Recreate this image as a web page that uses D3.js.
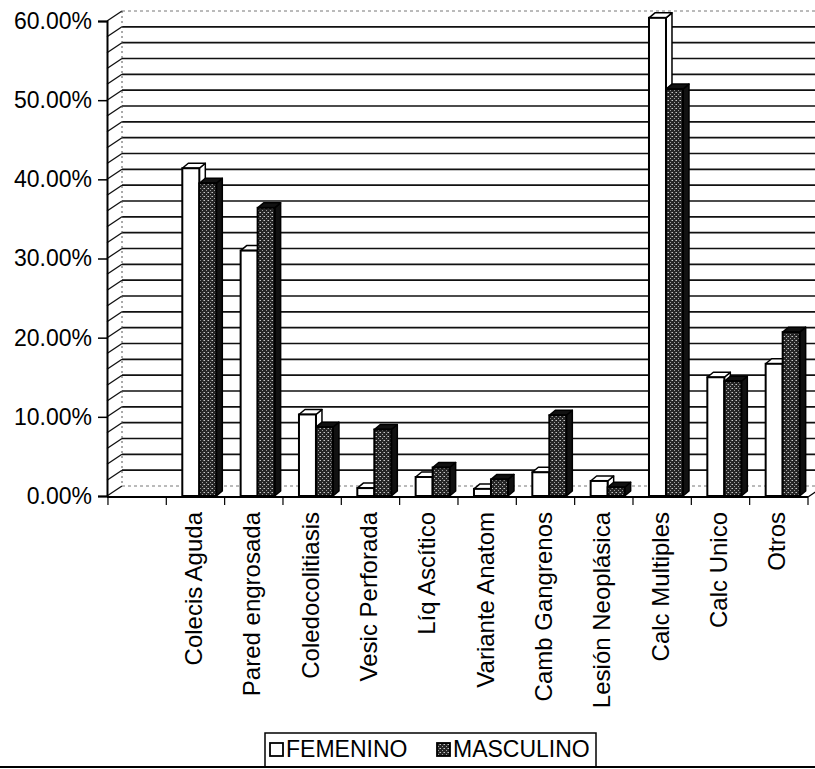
<!DOCTYPE html>
<html>
<head>
<meta charset="utf-8">
<script src="https://cdn.jsdelivr.net/npm/d3@7"></script>
<style>
  html, body { margin: 0; padding: 0; background: #fff; }
  svg { display: block; }
  text { font-family: "Liberation Sans", Arial, sans-serif; fill: #000; }
</style>
</head>
<body>
<svg id="chart" width="815" height="769"></svg>
<script>
// Hallazgos por sexo (porcentaje de casos)
const categories = ["Colecis Aguda", "Pared engrosada", "Coledocolitiasis", "Vesic Perforada",
  "Líq Ascítico", "Variante Anatom", "Camb Gangrenos", "Lesión Neoplásica",
  "Calc Multiples", "Calc Unico", "Otros"];
const femenino  = [41.4, 31.0, 10.3, 1.0, 2.4, 0.9, 3.0, 1.9, 60.4, 15.0, 16.7];
const masculino = [39.5, 36.4, 8.7, 8.4, 3.6, 2.1, 10.2, 1.1, 51.4, 14.5, 20.7];
const seriesNames = ["FEMENINO", "MASCULINO"];
const yTicks = [0, 10, 20, 30, 40, 50, 60];
const gridSteps = d3.range(0, 62, 2);

const svg = d3.select("#chart");

// pseudo-3D layout: back wall offset and column depth
const WALL_DX = 15, WALL_DY = -10;
const BAR_DX = 6, BAR_DY = -5;
const AXIS_X = 107;

const y = d3.scaleLinear().domain([0, 60]).range([496, 21]);
const x = d3.scaleBand().domain(categories).range([166.3, 808]).paddingInner(0).paddingOuter(0);
const step = x.step();
const rightEdge = x.range()[1];

// stippled fill for the second series
const defs = svg.append("defs");
const pat = defs.append("pattern").attr("id", "stipple")
  .attr("patternUnits", "userSpaceOnUse").attr("width", 4).attr("height", 4);
pat.append("rect").attr("width", 4).attr("height", 4).attr("fill", "#262626");
pat.append("rect").attr("x", 0).attr("y", 0).attr("width", 1).attr("height", 1).attr("fill", "#c8c8c8");
pat.append("rect").attr("x", 2).attr("y", 2).attr("width", 1).attr("height", 1).attr("fill", "#a0a0a0");
pat.append("rect").attr("x", 3).attr("y", 0).attr("width", 1).attr("height", 1).attr("fill", "#777");

// back wall gridlines
const wall = svg.append("g");
wall.selectAll("line.grid").data(gridSteps).join("line")
  .attr("x1", AXIS_X + WALL_DX).attr("x2", 815)
  .attr("y1", d => y(d) + WALL_DY).attr("y2", d => y(d) + WALL_DY)
  .attr("stroke", d => (d === 0 || d === 60) ? "#777" : "#111")
  .attr("stroke-width", d => (d === 0 || d === 60) ? 1 : 1.6)
  .attr("stroke-dasharray", d => (d === 0 || d === 60) ? "3,3" : null);

// side wall: slanted links from the axis to the back wall
wall.selectAll("line.diag").data(gridSteps).join("line")
  .attr("x1", AXIS_X).attr("x2", AXIS_X + WALL_DX)
  .attr("y1", d => y(d)).attr("y2", d => y(d) + WALL_DY)
  .attr("stroke", "#111").attr("stroke-width", 1.3);

// left edge of the back wall
wall.append("line")
  .attr("x1", AXIS_X + WALL_DX).attr("x2", AXIS_X + WALL_DX)
  .attr("y1", y(60) + WALL_DY).attr("y2", y(0) + WALL_DY)
  .attr("stroke", "#555").attr("stroke-width", 1).attr("stroke-dasharray", "2,3");

// columns
const barW = 17, offF = 16, offM = 33;
function column(g, x0, v, front, side, top) {
  const yt = y(v), yb = y(0);
  g.append("polygon")
    .attr("points", [[x0 + barW, yb], [x0 + barW + BAR_DX, yb + BAR_DY], [x0 + barW + BAR_DX, yt + BAR_DY], [x0 + barW, yt]].join(" "))
    .attr("fill", side).attr("stroke", "#000").attr("stroke-width", 1.5).attr("stroke-linejoin", "round");
  g.append("polygon")
    .attr("points", [[x0, yt], [x0 + BAR_DX, yt + BAR_DY], [x0 + barW + BAR_DX, yt + BAR_DY], [x0 + barW, yt]].join(" "))
    .attr("fill", top).attr("stroke", "#000").attr("stroke-width", 1.5).attr("stroke-linejoin", "round");
  g.append("rect")
    .attr("x", x0).attr("y", yt).attr("width", barW).attr("height", yb - yt)
    .attr("fill", front).attr("stroke", "#000").attr("stroke-width", 2);
}
const bars = svg.append("g");
categories.forEach((c, i) => {
  const g = bars.append("g");
  column(g, x(c) + offF, femenino[i], "#fff", "#fff", "#fff");
  column(g, x(c) + offM, masculino[i], "url(#stipple)", "#111", "#111");
});

// value axis
const yAxis = d3.axisLeft(y).tickValues(yTicks).tickSize(9).tickPadding(6)
  .tickFormat(d => d.toFixed(2) + "%");
const yg = svg.append("g").attr("transform", `translate(${AXIS_X},0)`).call(yAxis);
yg.select(".domain").attr("stroke", "#000").attr("stroke-width", 2);
yg.selectAll(".tick line").attr("stroke", "#000").attr("stroke-width", 1.5);
yg.selectAll(".tick text").attr("font-size", 23).attr("font-family", "Liberation Sans, Arial, sans-serif");

// category axis: floor edge and slot ticks
const xg = svg.append("g");
xg.append("line").attr("x1", AXIS_X).attr("x2", rightEdge)
  .attr("y1", y(0) + 1).attr("y2", y(0) + 1).attr("stroke", "#000").attr("stroke-width", 2);
xg.append("line").attr("x1", rightEdge).attr("x2", rightEdge + WALL_DX)
  .attr("y1", y(0) + 1).attr("y2", y(0) + 1 + WALL_DY).attr("stroke", "#000").attr("stroke-width", 1.3);
const bounds = [x(categories[0]) - step].concat(categories.map(c => x(c)), [rightEdge]);
xg.selectAll("line.tick").data(bounds).join("line")
  .attr("x1", d => d).attr("x2", d => d)
  .attr("y1", y(0) + 1).attr("y2", y(0) + 9)
  .attr("stroke", "#000").attr("stroke-width", 1.2);
xg.selectAll("text.cat").data(categories).join("text")
  .attr("transform", d => `translate(${x(d) + step / 2 - 2},${y(0) + 16}) rotate(-90)`)
  .attr("text-anchor", "end").attr("dy", "0.35em")
  .attr("font-size", 24)
  .text(d => d);

// legend
const lg = svg.append("g");
lg.append("rect").attr("x", 265).attr("y", 733).attr("width", 331).attr("height", 34)
  .attr("fill", "#fff").attr("stroke", "#000").attr("stroke-width", 1.5);
const legendItems = [
  { name: seriesNames[0], fill: "#fff", x: 270 },
  { name: seriesNames[1], fill: "url(#stipple)", x: 437 }
];
legendItems.forEach(it => {
  lg.append("rect").attr("x", it.x).attr("y", 743).attr("width", 13).attr("height", 13)
    .attr("fill", it.fill).attr("stroke", "#000").attr("stroke-width", 1.8);
  lg.append("text").attr("x", it.x + 16).attr("y", 757).attr("font-size", 23).text(it.name);
});

// page rule under the chart
svg.append("line").attr("x1", 0).attr("x2", 815).attr("y1", 767).attr("y2", 767)
  .attr("stroke", "#000").attr("stroke-width", 2);
</script>
</body>
</html>
